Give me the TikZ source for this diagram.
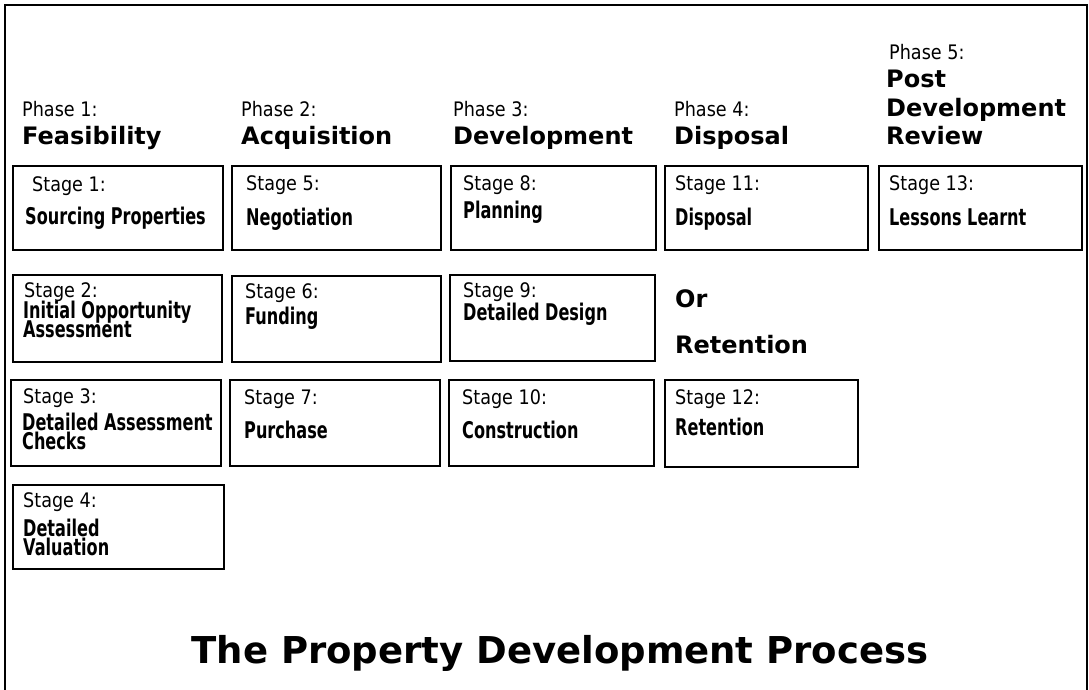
\documentclass[tikz,border=0pt]{standalone}
\usepackage{fontspec}
\setmainfont{DejaVu Sans}
\newfontfamily\lblfont[FakeStretch=0.88]{DejaVu Sans}
\newfontfamily\stgfont[FakeStretch=0.7]{DejaVu Sans}
\usetikzlibrary{positioning}
\tikzset{
  stagebox/.style={draw=black, line width=1.4pt, inner sep=0pt, outer sep=0pt, anchor=north west},
  phaselbl/.style={anchor=base west, inner sep=0pt, font=\lblfont\fontsize{20}{22}\selectfont},
  phasehead/.style={anchor=base west, inner sep=0pt, font=\bfseries\fontsize{24}{28.5}\selectfont},
  stagelbl/.style={anchor=base west, inner sep=0pt, font=\lblfont\fontsize{20}{22}\selectfont},
  stagetxt/.style={anchor=base west, inner sep=0pt, font=\stgfont\bfseries\fontsize{23}{18}\selectfont},
  titletxt/.style={anchor=base, inner sep=0pt, font=\bfseries\fontsize{37}{44}\selectfont}
}
\begin{document}
\begin{tikzpicture}[x=1pt,y=-1pt]
\useasboundingbox (0,0) rectangle (1089,690);
% outer frame
\draw[line width=1.8pt] (5,695) -- (5,5) -- (1087,5) -- (1087,695);

% phase headers
\node[phaselbl] (p1) at (22,117) {Phase 1:};
\node[phasehead] (h1) at (22,145) {Feasibility};
\node[phaselbl] (p2) at (241,117) {Phase 2:};
\node[phasehead] (h2) at (241,145) {Acquisition};
\node[phaselbl] (p3) at (453,117) {Phase 3:};
\node[phasehead] (h3) at (453,145) {Development};
\node[phaselbl] (p4) at (674,117) {Phase 4:};
\node[phasehead] (h4) at (674,145) {Disposal};
\node[phaselbl] (p5) at (889,60) {Phase 5:};
\node[phasehead] (h5a) at (886,88) {Post};
\node[phasehead] (h5b) at (886,117) {Development};
\node[phasehead] (h5c) at (886,145) {Review};

% row 1
\node[stagebox, minimum width=210pt, minimum height=84pt] (b1) at (13,166) {};
\node[stagebox, minimum width=209pt, minimum height=84pt] (b5) at (232,166) {};
\node[stagebox, minimum width=205pt, minimum height=84pt] (b8) at (451,166) {};
\node[stagebox, minimum width=203pt, minimum height=84pt] (b11) at (665,166) {};
\node[stagebox, minimum width=203pt, minimum height=84pt] (b13) at (879,166) {};
% row 2
\node[stagebox, minimum width=209pt, minimum height=87pt] (b2) at (13,275) {};
\node[stagebox, minimum width=209pt, minimum height=86pt] (b6) at (232,276) {};
\node[stagebox, minimum width=205pt, minimum height=86pt] (b9) at (450,275) {};
% row 3
\node[stagebox, minimum width=210pt, minimum height=86pt] (b3) at (11,380) {};
\node[stagebox, minimum width=210pt, minimum height=86pt] (b7) at (230,380) {};
\node[stagebox, minimum width=205pt, minimum height=86pt] (b10) at (449,380) {};
\node[stagebox, minimum width=193pt, minimum height=87pt] (b12) at (665,380) {};
% row 4
\node[stagebox, minimum width=211pt, minimum height=84pt] (b4) at (13,485) {};

% stage texts
\node[stagelbl] (l1) at ([shift={(19,25)}]b1.north west) {Stage 1:};
\node[stagetxt] (t1) at ([shift={(12,58)}]b1.north west) {Sourcing Properties};
\node[stagelbl] (l5) at ([shift={(14,24)}]b5.north west) {Stage 5:};
\node[stagetxt] (t5) at ([shift={(14,59)}]b5.north west) {Negotiation};
\node[stagelbl] (l8) at ([shift={(12,24)}]b8.north west) {Stage 8:};
\node[stagetxt] (t8) at ([shift={(12,52)}]b8.north west) {Planning};
\node[stagelbl] (l11) at ([shift={(10,24)}]b11.north west) {Stage 11:};
\node[stagetxt] (t11) at ([shift={(10,59)}]b11.north west) {Disposal};
\node[stagelbl] (l13) at ([shift={(10,24)}]b13.north west) {Stage 13:};
\node[stagetxt] (t13) at ([shift={(10,59)}]b13.north west) {Lessons Learnt};

\node[stagelbl] (l2) at ([shift={(11,22)}]b2.north west) {Stage 2:};
\node[stagetxt] (t2) at ([shift={(10,43)}]b2.north west) {Initial Opportunity};
\node[stagetxt] (t2b) at ([shift={(10,62)}]b2.north west) {Assessment};
\node[stagelbl] (l6) at ([shift={(13,22)}]b6.north west) {Stage 6:};
\node[stagetxt] (t6) at ([shift={(13,48)}]b6.north west) {Funding};
\node[stagelbl] (l9) at ([shift={(13,22)}]b9.north west) {Stage 9:};
\node[stagetxt] (t9) at ([shift={(13,45)}]b9.north west) {Detailed Design};

\node[stagelbl] (l3) at ([shift={(12,23)}]b3.north west) {Stage 3:};
\node[stagetxt] (t3) at ([shift={(11,50)}]b3.north west) {Detailed Assessment};
\node[stagetxt] (t3b) at ([shift={(11,69)}]b3.north west) {Checks};
\node[stagelbl] (l7) at ([shift={(14,24)}]b7.north west) {Stage 7:};
\node[stagetxt] (t7) at ([shift={(14,58)}]b7.north west) {Purchase};
\node[stagelbl] (l10) at ([shift={(13,24)}]b10.north west) {Stage 10:};
\node[stagetxt] (t10) at ([shift={(13,58)}]b10.north west) {Construction};
\node[stagelbl] (l12) at ([shift={(10,24)}]b12.north west) {Stage 12:};
\node[stagetxt] (t12) at ([shift={(10,55)}]b12.north west) {Retention};

\node[stagelbl] (l4) at ([shift={(10,22)}]b4.north west) {Stage 4:};
\node[stagetxt] (t4) at ([shift={(10,51)}]b4.north west) {Detailed};
\node[stagetxt] (t4b) at ([shift={(10,70)}]b4.north west) {Valuation};

% or retention
\node[phasehead] (or) at (675,307) {Or};
\node[phasehead] (ret) at (675,353) {Retention};

% title
\node[titletxt] (title) at (560,663) {The Property Development Process};
\end{tikzpicture}
\end{document}
